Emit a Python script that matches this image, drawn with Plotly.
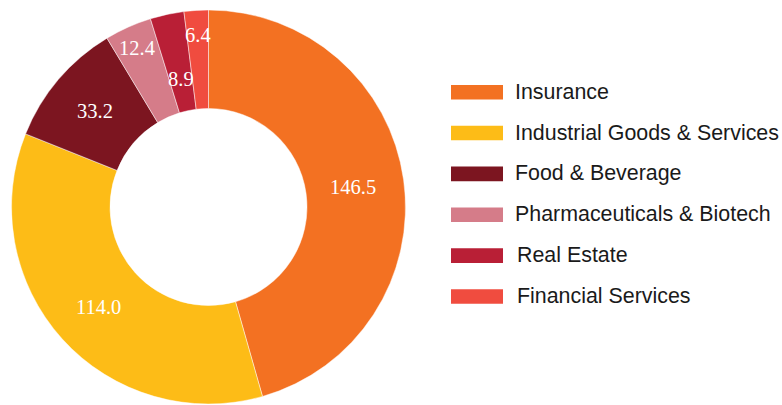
import math
import plotly.graph_objects as go

categories = ["Insurance", "Industrial Goods & Services", "Food & Beverage",
              "Pharmaceuticals & Biotech", "Real Estate", "Financial Services"]
values = [146.5, 114.0, 33.2, 12.4, 8.9, 6.4]
value_labels = ["146.5", "114.0", "33.2", "12.4", "8.9", "6.4"]
colors = ["#F37122", "#FDBC17", "#7C1520", "#D57C89", "#B91F36", "#F04C3F"]

W, H = 782, 405
# pie geometry (pixels)
PX0, PX1 = 10, 407
PY_TOP, PY_BOT = 10, 404
CX = (PX0 + PX1) / 2
CY = (PY_TOP + PY_BOT) / 2
R = min(PX1 - PX0, PY_BOT - PY_TOP) / 2
HOLE = 0.5
# radial position of each value label, as fraction of outer radius
label_r = [0.74, 0.755, 0.755, 0.885, 0.665, 0.875]

fig = go.Figure()
fig.add_trace(go.Pie(
    labels=categories, values=values, hole=HOLE, sort=False,
    direction="clockwise", rotation=0,
    marker=dict(colors=colors, line=dict(color="rgba(255,255,255,0.6)", width=0.8)),
    textinfo="none", hoverinfo="label+value", showlegend=False,
    domain=dict(x=[PX0 / W, PX1 / W], y=[(H - PY_BOT) / H, (H - PY_TOP) / H]),
))

total = sum(values)
cum = 0.0
annotations = []
for v, lab, rf in zip(values, value_labels, label_r):
    mid = (cum + v / 2) / total * 2 * math.pi
    cum += v
    px = CX + R * rf * math.sin(mid)
    py = CY - R * rf * math.cos(mid)
    annotations.append(dict(
        x=px / W, y=1 - py / H, xref="paper", yref="paper",
        text=lab, showarrow=False, xanchor="center", yanchor="middle",
        font=dict(family="Liberation Serif, serif", size=20.5, color="white"),
    ))

# legend
shapes = []
LEG_Y0 = 92.2
LEG_STEP = 40.85
for i, (cat, col) in enumerate(zip(categories, colors)):
    yc = LEG_Y0 + i * LEG_STEP
    shapes.append(dict(type="rect", xref="paper", yref="paper",
                       x0=451 / W, x1=503 / W,
                       y0=1 - (yc + 7.3) / H, y1=1 - (yc - 7.3) / H,
                       fillcolor=col, line=dict(width=0)))
    tx = 513 if i < 4 else 515
    annotations.append(dict(
        x=tx / W, y=1 - (yc - 0.5) / H, xref="paper", yref="paper",
        text=cat, showarrow=False, xanchor="left", yanchor="middle",
        font=dict(family="Liberation Sans, Arial, sans-serif", size=21.4, color="#1a1a1a"),
    ))

fig.update_layout(
    width=W, height=H, margin=dict(l=0, r=0, t=0, b=0),
    paper_bgcolor="white", plot_bgcolor="white",
    annotations=annotations, shapes=shapes,
)
fig.write_html("out.html", config={"displayModeBar": False},
               post_script="document.body.style.margin='0';document.body.style.overflow='hidden';")
